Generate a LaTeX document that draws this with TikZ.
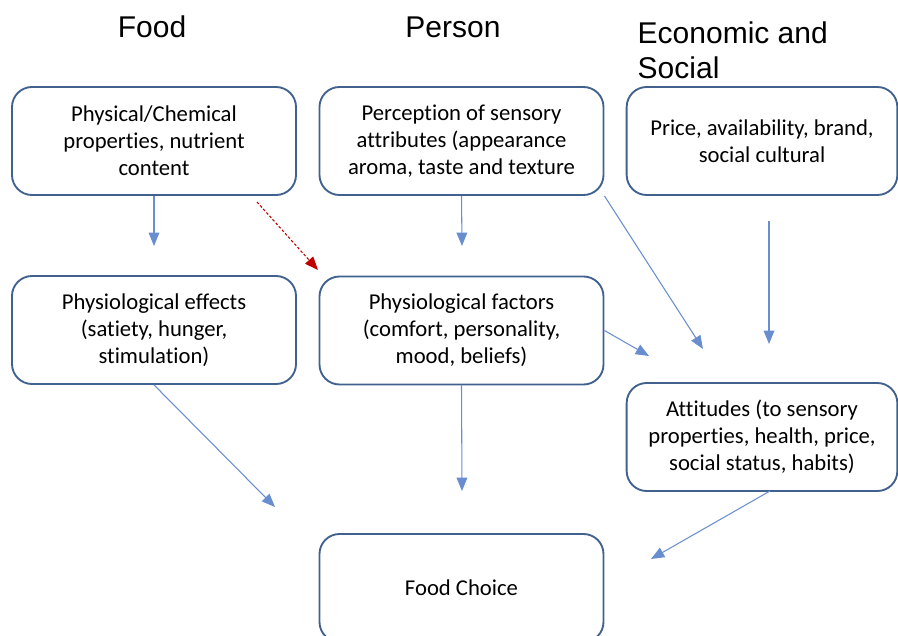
\documentclass[tikz,border=0pt]{standalone}
\usepackage{fontspec}
\setmainfont{Carlito}[Ligatures=NoCommon]
\newfontfamily\headfont{Liberation Sans}
\usetikzlibrary{arrows.meta}

\definecolor{boxline}{HTML}{41618F}
\definecolor{arrowblue}{HTML}{4472C4}
\definecolor{darkred}{HTML}{C00000}

\tikzset{
	factorbox/.style={draw=boxline, line width=1.4pt, rounded corners=15pt, minimum width=213pt, minimum height=81pt, align=center, font=\fontsize{17}{20.3}\selectfont},
	widebox/.style={factorbox, minimum width=203pt},
	heading/.style={font=\headfont\fontsize{22.5}{26}\selectfont},
	flow/.style={arrowblue!80, line width=0.8pt, -{Triangle[length=10pt,width=8pt]}},
	hint/.style={darkred, line width=0.8pt, dashed, dash pattern=on 2pt off 1.5pt, -{Triangle[length=10pt,width=8pt]}}
}

\begin{document}
\begin{tikzpicture}[x=0.75pt, y=-0.75pt]
	\useasboundingbox (0,0) rectangle (898,635);
	% column headings
	\node[heading] (hfood) at (152,27) {Food};
	\node[heading] (hperson) at (453,27) {Person};
	\node[heading, align=left, anchor=west] (hecon) at (633,50) {Economic and\\Social};
	% draw boxes
	\node[factorbox] (phys) at (154,141) {Physical/Chemical\\properties, nutrient\\content};
	\node[factorbox] (perc) at (461.5,141) {Perception of sensory\\attributes (appearance\\aroma, taste and texture};
	\node[widebox] (price) at (762,141) {Price, availability, brand,\\social cultural};
	\node[factorbox] (effects) at (154,330) {Physiological effects\\(satiety, hunger,\\stimulation)};
	\node[factorbox] (factors) at (461.5,330.5) {Physiological factors\\(comfort, personality,\\mood, beliefs)};
	\node[widebox] (attitudes) at (762,437) {Attitudes (to sensory\\properties, health, price,\\social status, habits)};
	\node[factorbox] (choice) at (461.5,588) {Food Choice};
	% free arrow ends
	\coordinate (t1) at (154,246);
	\coordinate (t2) at (462,246);
	\coordinate (t3) at (703,349);
	\coordinate (s4) at (769,221);
	\coordinate (t4) at (769,344);
	\coordinate (t5) at (649,356);
	\coordinate (t6) at (275,507);
	\coordinate (t7) at (462,491);
	\coordinate (s8) at (770,491);
	\coordinate (t8) at (651,559);
	\coordinate (s9) at (257,202);
	\coordinate (t9) at (318,270);
	% draw arrows
	\draw[flow] (phys.south) -- (t1);
	\draw[flow] (perc.south) -- (t2);
	\draw[flow] (perc.south east) -- (t3);
	\draw[flow] (s4) -- (t4);
	\draw[flow] (factors.east) -- (t5);
	\draw[flow] (effects.south) -- (t6);
	\draw[flow] (factors.south) -- (t7);
	\draw[flow] (s8) -- (t8);
	\draw[hint] (s9) -- (t9);
\end{tikzpicture}
\end{document}
